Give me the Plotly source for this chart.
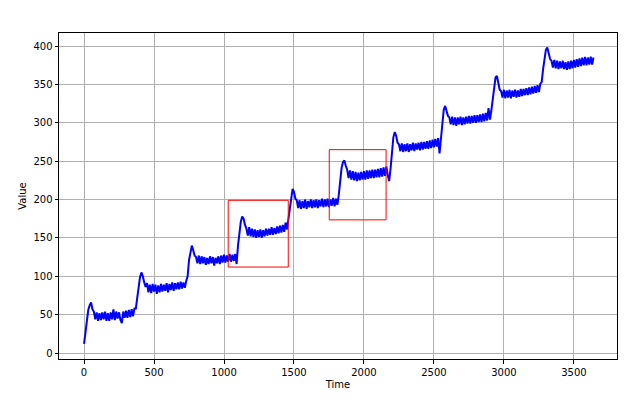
import plotly.graph_objects as go

# Values, one every 10 time steps
time = list(range(0, 3650, 10))
values = [
    # year 0 (0..360)
    12, 26, 38, 56, 62, 66, 57, 54,
    44, 53, 42, 52, 43, 53, 44, 54, 42, 52, 42, 53, 44, 57, 43, 54, 45, 53, 43, 39, 54, 46,
    55, 46, 56, 47, 57, 48, 58,
    # year 1 (370..730)
    58, 72, 90, 99, 105, 100, 92, 86,
    91, 79, 89, 78, 90, 80, 89, 77, 88, 79, 90, 80, 89, 81, 91, 79, 90, 82, 92, 81,
    91, 83, 92, 83, 93, 84, 92, 85, 94,
    # year 2 (740..1080)
    100, 121, 134, 140, 134, 127, 125,
    117, 127, 116, 126, 117, 125, 115, 124, 116, 126, 117, 125, 114, 124, 117, 126, 116, 127,
    118, 128, 118, 127, 119, 129, 119, 128, 120, 129,
    # year 3 (1090..1450)
    116, 140, 158, 171, 178, 175, 167, 162,
    153, 164, 152, 162, 151, 161, 150, 160, 151, 161, 150, 160, 152, 162, 153, 162, 154, 164,
    154, 163, 155, 165, 156, 166, 157, 167, 158, 170, 161,
    # year 4 (1460..1810)
    175, 192, 206, 214, 210, 201, 199,
    189, 199, 188, 198, 189, 200, 188, 198, 190, 200, 189, 199, 190, 200, 189, 199, 191, 201,
    190, 200, 191, 201, 190, 200, 192, 202, 191, 201, 193,
    # year 5 (1820..2180)
    206, 226, 241, 249, 251, 244, 239,
    228, 238, 226, 237, 225, 236, 224, 235, 225, 236, 226, 237, 226, 238, 227, 238, 228, 239,
    228, 239, 229, 240, 229, 241, 230, 242, 231, 243, 232, 224,
    # year 6 (2190..2540)
    240, 263, 281, 288, 283, 274, 272,
    263, 273, 262, 272, 263, 273, 262, 272, 264, 274, 263, 273, 265, 274, 264, 275, 265, 275,
    266, 276, 266, 277, 267, 278, 268, 279, 269, 280, 260,
    # year 7 (2550..2900)
    282, 302, 317, 322, 316, 309, 307,
    298, 308, 297, 307, 296, 307, 298, 308, 297, 307, 298, 308, 299, 309, 299, 309, 300, 310,
    300, 310, 301, 311, 301, 312, 302, 313, 303, 319, 304,
    # year 8 (2910..3260)
    316, 333, 350, 359, 361, 352, 343, 341,
    333, 343, 332, 342, 333, 343, 332, 342, 334, 343, 333, 342, 334, 344, 335, 344, 336, 345,
    336, 346, 337, 347, 338, 348, 339, 349, 340, 351,
    # year 9 (3270..3640)
    353, 370, 386, 395, 398, 390, 383, 381,
    372, 382, 371, 381, 370, 380, 371, 381, 370, 379, 369, 380, 370, 381, 371, 382, 372, 383,
    373, 384, 374, 385, 375, 386, 375, 385, 376, 386, 376, 385,
]

# Highlight boxes (time start, time end, value low, value high)
box_x0 = [1030, 1752]
box_x1 = [1459, 2158]
box_y0 = [112, 173.5]
box_y1 = [199, 265]

x_ticks = [0, 500, 1000, 1500, 2000, 2500, 3000, 3500]
y_ticks = [0, 50, 100, 150, 200, 250, 300, 350, 400]

fig = go.Figure()
fig.add_trace(go.Scatter(x=time[:len(values)], y=values, mode="lines",
                         line=dict(color="#0000ff", width=2),
                         hoverinfo="skip", showlegend=False))

for a, b, c, d in zip(box_x0, box_x1, box_y0, box_y1):
    fig.add_shape(type="rect", xref="x", yref="y", x0=a, x1=b, y0=c, y1=d,
                  line=dict(color="#ff0000", width=1), fillcolor="rgba(0,0,0,0)")

axis_common = dict(
    showgrid=True, gridcolor="#b0b0b0", gridwidth=0.8,
    showline=True, linecolor="black", linewidth=1, mirror=True,
    ticks="outside", ticklen=3.5, tickwidth=0.8, tickcolor="black",
    zeroline=False, tickfont=dict(family="DejaVu Sans", size=10, color="black"),
)

fig.update_xaxes(range=[-179, 3808], tickvals=x_ticks,
                 title=dict(text="Time", font=dict(family="DejaVu Sans", size=10, color="black"), standoff=4),
                 **axis_common)
fig.update_yaxes(range=[-7.8, 417], tickvals=y_ticks,
                 title=dict(text="Value", font=dict(family="DejaVu Sans", size=10, color="black"), standoff=4),
                 **axis_common)

fig.update_layout(width=627, height=410,
                  margin=dict(l=59, r=10, t=33, b=51),
                  paper_bgcolor="white", plot_bgcolor="white")

fig.write_html("out.html", config={"displayModeBar": False},
               post_script="document.body.style.margin='0';")
